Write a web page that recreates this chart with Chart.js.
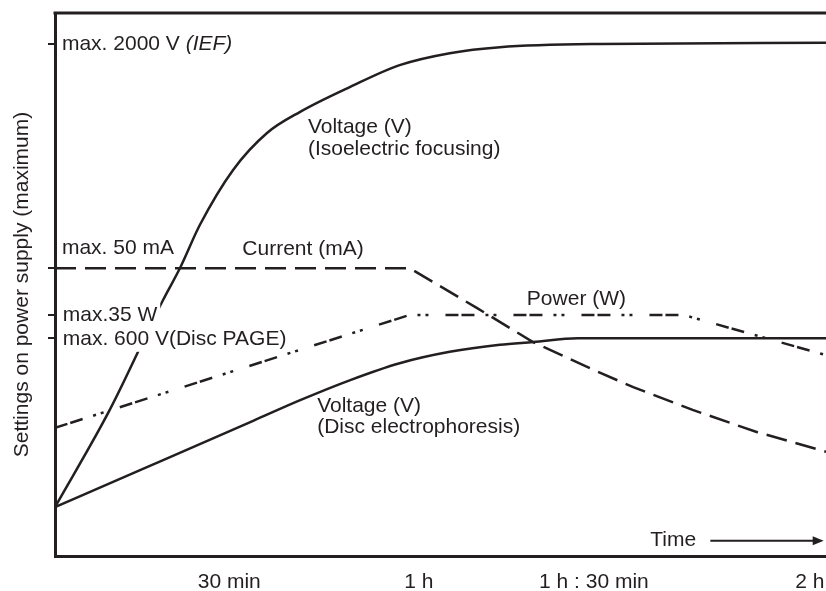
<!DOCTYPE html>
<html>
<head>
<meta charset="utf-8">
<script src="https://cdn.jsdelivr.net/npm/chart.js@4.4.1/dist/chart.umd.min.js"></script>
<style>
  html, body { margin: 0; padding: 0; background: #fff; }
</style>
</head>
<body>
<canvas id="powerChart" width="826" height="591"></canvas>
<script>
// schematic time axis: 0 = start of the run, 100 = right edge of the plot
const timeTicks = [22.6, 47.2, 69.9, 97.9];
const timeLabels = ['30 min', '1 h', '1 h : 30 min', '2 h'];
// levels marked on the y axis (relative height, 0-100)
const settingTicks = [94.3, 53.0, 44.4, 40.1];

const iefTime = [0, 7.1, 14.0, 16.2, 18.8, 23.1, 27.5, 31.8, 38.3, 44.7, 51.2, 57.7, 70.7, 100];
const iefVoltage = [9.0, 26.9, 47.1, 53.0, 61.0, 71.1, 77.9, 81.8, 86.4, 90.4, 92.6, 93.7, 94.3, 94.5];

const discTime = [0, 12.3, 25.7, 31.8, 38.3, 44.7, 51.2, 57.7, 62.0, 67.8, 100];
const discVoltage = [9.0, 16.6, 24.9, 28.7, 32.4, 35.5, 37.6, 38.9, 39.4, 40.1, 40.1];

const currentTime = [0, 46.0, 54.7, 62.0, 69.8, 75.0, 82.7, 91.1, 100];
const currentValues = [53.0, 53.0, 45.7, 39.4, 34.3, 31.1, 26.9, 22.8, 19.2];

const powerTime = [0, 46.0, 81.5, 100];
const powerValues = [23.6, 44.4, 44.4, 37.0];

const ink = '#231f20';
const font = '"Liberation Sans", Arial, Helvetica, sans-serif';
const textSize = 21;

function pts(xs, ys) {
  return xs.map((x, i) => ({ x: x, y: ys[i] }));
}

// text annotations, anchored in data units (left edge, vertical middle)
const notes = [
  { x: 0.9, y: 94.3, text: 'max. 2000 V ', italic: '(IEF)' },
  { x: 0.9, y: 56.7, text: 'max. 50 mA' },
  { x: 24.3, y: 56.5, text: 'Current (mA)' },
  { x: 1.0, y: 44.4, text: 'max.35 W', mask: true },
  { x: 1.0, y: 40.0, text: 'max. 600 V(Disc PAGE)', mask: true },
  { x: 32.8, y: 79.0, text: 'Voltage (V)' },
  { x: 32.8, y: 75.0, text: '(Isoelectric focusing)' },
  { x: 61.2, y: 47.3, text: 'Power (W)' },
  { x: 34.0, y: 27.6, text: 'Voltage (V)' },
  { x: 34.0, y: 23.8, text: '(Disc electrophoresis)' },
  { x: 77.2, y: 2.9, text: 'Time' }
];

const notesPlugin = {
  id: 'notes',
  afterDatasetsDraw(chart) {
    const ctx = chart.ctx;
    const xs = chart.scales.x, ys = chart.scales.y;
    const area = chart.chartArea;
    ctx.save();
    // top frame line
    ctx.strokeStyle = ink;
    ctx.lineWidth = 3;
    ctx.beginPath();
    ctx.moveTo(area.left - 1.5, area.top);
    ctx.lineTo(area.right, area.top);
    ctx.stroke();

    ctx.textBaseline = 'middle';
    ctx.textAlign = 'left';
    // white boxes behind labels that sit over the curves
    notes.filter(n => n.mask).forEach(n => {
      const px = xs.getPixelForValue(n.x);
      const py = ys.getPixelForValue(n.y);
      ctx.font = textSize + 'px ' + font;
      const w = ctx.measureText(n.text).width;
      ctx.fillStyle = '#fff';
      ctx.fillRect(px - 3, py - 13, w + 6, 26);
    });
    ctx.fillStyle = ink;
    notes.forEach(n => {
      const px = xs.getPixelForValue(n.x);
      const py = ys.getPixelForValue(n.y);
      ctx.font = textSize + 'px ' + font;
      ctx.fillText(n.text, px, py);
      if (n.italic) {
        const w = ctx.measureText(n.text).width;
        ctx.font = 'italic ' + textSize + 'px ' + font;
        ctx.fillText(n.italic, px + w, py);
      }
    });

    // time arrow
    const ay = ys.getPixelForValue(2.8);
    const ax0 = xs.getPixelForValue(85.0);
    const ax1 = xs.getPixelForValue(99.7);
    ctx.lineWidth = 2;
    ctx.beginPath();
    ctx.moveTo(ax0, ay);
    ctx.lineTo(ax1 - 8, ay);
    ctx.stroke();
    ctx.beginPath();
    ctx.moveTo(ax1, ay);
    ctx.lineTo(ax1 - 11, ay - 4.5);
    ctx.lineTo(ax1 - 11, ay + 4.5);
    ctx.closePath();
    ctx.fill();
    ctx.restore();
  }
};

const lineStyle = {
  borderColor: ink,
  borderWidth: 2.5,
  pointRadius: 0,
  fill: false
};

new Chart(document.getElementById('powerChart'), {
  type: 'line',
  data: {
    datasets: [
      Object.assign({ label: 'Voltage IEF', data: pts(iefTime, iefVoltage), cubicInterpolationMode: 'monotone' }, lineStyle),
      Object.assign({ label: 'Voltage Disc', data: pts(discTime, discVoltage), cubicInterpolationMode: 'monotone' }, lineStyle),
      Object.assign({ label: 'Current', data: pts(currentTime, currentValues), tension: 0, borderDash: [21, 9] }, lineStyle),
      Object.assign({ label: 'Power', data: pts(powerTime, powerValues), tension: 0, borderDash: [13, 3, 13, 11, 3, 5, 3, 17] }, lineStyle)
    ]
  },
  options: {
    responsive: false,
    animation: false,
    devicePixelRatio: 1,
    layout: { padding: { top: 13, right: 0, bottom: 0, left: 0 } },
    plugins: { legend: { display: false }, tooltip: { enabled: false } },
    scales: {
      x: {
        type: 'linear',
        min: 0,
        max: 100,
        afterBuildTicks: s => { s.ticks = timeTicks.map(v => ({ value: v })); },
        afterFit: s => { s.height = 35; s.paddingLeft = 0; s.paddingRight = 0; },
        grid: { display: false, drawTicks: false },
        border: { display: true, color: ink, width: 3 },
        ticks: {
          color: ink,
          padding: 14,
          maxRotation: 0,
          font: { family: font, size: textSize },
          callback: (v) => timeLabels[timeTicks.indexOf(v)]
        }
      },
      y: {
        type: 'linear',
        min: 0,
        max: 100,
        afterBuildTicks: s => { s.ticks = settingTicks.map(v => ({ value: v })); },
        afterFit: s => { s.width = 55; s.paddingTop = 0; s.paddingBottom = 0; },
        grid: { drawOnChartArea: false, drawTicks: true, tickLength: 7, color: ink, lineWidth: 2 },
        border: { display: true, color: ink, width: 3 },
        ticks: { display: false },
        title: {
          display: true,
          text: 'Settings on power supply (maximum)',
          color: ink,
          font: { family: font, size: textSize },
          padding: { top: 10, bottom: 0 }
        }
      }
    }
  },
  plugins: [notesPlugin]
});
</script>
</body>
</html>
